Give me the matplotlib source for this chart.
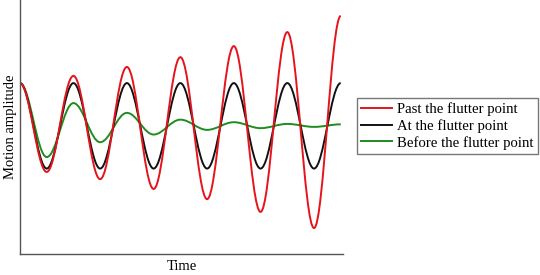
import matplotlib.pyplot as plt
from matplotlib.path import Path
from matplotlib.patches import PathPatch
from matplotlib.lines import Line2D

plt.rcParams["font.family"] = ["Liberation Serif", "DejaVu Serif"]

# times of the turning points (in oscillation periods) and displacement there
t_ext = [0, 0.5, 1, 1.5, 2, 2.5, 3, 3.5, 4, 4.5, 5, 5.5, 6]
past = [1.01, -1.08, 1.18, -1.25, 1.39, -1.48, 1.62, -1.72, 1.88, -2.02, 2.21, -2.40, 2.59]
at = [1.01, -1.00, 1.01, -1.00, 1.01, -1.00, 1.01, -1.00, 1.01, -1.00, 1.01, -1.00, 1.01]
before = [1.01, -0.73, 0.54, -0.38, 0.31, -0.20, 0.15, -0.09, 0.09, -0.05, 0.05, -0.02, 0.04]

labels = ["Past the flutter point", "At the flutter point", "Before the flutter point"]
colors = ["#e5141b", "#111111", "#1f8c1f"]


def wave_path(ts, ys):
    # smooth cubic segments between turning points (flat tangents at each extremum)
    k = 0.3634
    verts = [(ts[0], ys[0])]
    codes = [Path.MOVETO]
    for i in range(len(ts) - 1):
        dt = ts[i + 1] - ts[i]
        verts += [(ts[i] + k * dt, ys[i]), (ts[i + 1] - k * dt, ys[i + 1]), (ts[i + 1], ys[i + 1])]
        codes += [Path.CURVE4] * 3
    return Path(verts, codes)


fig = plt.figure(figsize=(5.4, 2.75), dpi=100)
ax = fig.add_axes([0.037, 0.0764, 0.598, 0.9236])

for ys, c in zip([past, at, before][::-1], colors[::-1]):
    ax.add_patch(PathPatch(wave_path(t_ext, ys), fill=False, edgecolor=c, lw=1.4))

ax.set_xlim(0, 6.04)
ax.set_ylim(-3.01, 2.965)
ax.set_xticks([])
ax.set_yticks([])
ax.spines["top"].set_visible(False)
ax.spines["right"].set_visible(False)
for s in ["left", "bottom"]:
    ax.spines[s].set_color("#555555")
    ax.spines[s].set_linewidth(1.0)

ax.set_xlabel("Time", fontsize=10.5, labelpad=4)
ax.set_ylabel("Motion amplitude", fontsize=10.5, labelpad=2)

handles = [Line2D([], [], color=c, lw=1.4) for c in colors]
leg = fig.legend(handles, labels, loc="upper left", bbox_to_anchor=(0.661, 0.644),
                 borderaxespad=0, fontsize=10.6, fancybox=False, framealpha=1,
                 edgecolor="#777777", handlelength=2.1, handletextpad=0.35,
                 labelspacing=0.2, borderpad=0.3)
leg.get_frame().set_linewidth(1.0)

fig.savefig("out.png", dpi=100)
